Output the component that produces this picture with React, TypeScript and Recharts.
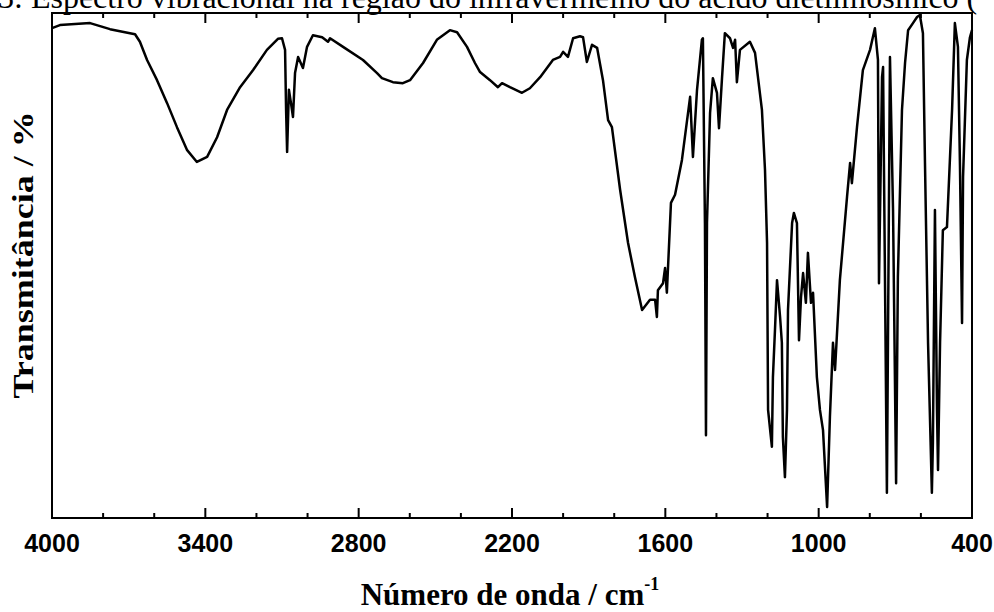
import { LineChart, Line, XAxis, YAxis, ReferenceArea } from "recharts";

// wavenumber (cm-1), read left to right
const wavenumber = [
  4000, 3969, 3910, 3851, 3812, 3773, 3734, 3695, 3675, 3656, 3628, 3589, 3550, 3511, 3472, 3433,
  3393, 3354, 3315, 3264, 3213, 3159, 3116, 3100, 3088, 3084, 3080, 3073, 3065, 3057, 3049, 3037,
  3018, 3002, 2979, 2943, 2920, 2912, 2861, 2783, 2728, 2709, 2666, 2627, 2599, 2548, 2494, 2443,
  2415, 2376, 2345, 2325, 2286, 2255, 2239, 2208, 2161, 2130, 2090, 2040, 2012, 2000, 1981, 1961,
  1934, 1922, 1907, 1887, 1867, 1844, 1824, 1809, 1777, 1746, 1719, 1691, 1660, 1640, 1633, 1629,
  1609, 1601, 1594, 1578, 1562, 1535, 1503, 1492, 1476, 1457, 1453, 1445, 1441, 1437, 1425, 1414,
  1398, 1390, 1378, 1367, 1347, 1335, 1327, 1320, 1308, 1269, 1249, 1222, 1210, 1202, 1198, 1183,
  1179, 1171, 1163, 1151, 1144, 1140, 1132, 1124, 1120, 1104, 1097, 1085, 1077, 1069, 1061, 1050,
  1042, 1030, 1022, 1007, 995, 983, 967, 956, 944, 936, 917, 889, 877, 870, 850, 827,
  799, 780, 768, 764, 752, 748, 733, 721, 709, 697, 690, 674, 662, 650, 631, 615,
  604, 592, 584, 572, 557, 553, 545, 537, 533, 525, 514, 498, 478, 467, 455, 447,
  439, 435, 420, 408, 400,
];

// transmittance (arbitrary %), same order
const transmittance = [
  97.0, 97.6, 97.8, 98.0, 97.4, 96.8, 96.4, 96.0, 95.8, 94.3, 90.7, 86.7, 82.2, 77.4, 72.9, 70.5,
  71.5, 75.4, 80.8, 85.3, 88.7, 92.7, 94.9, 95.0, 92.7, 80.8, 72.5, 84.8, 82.2, 79.4, 88.1, 91.3,
  89.1, 93.3, 95.6, 95.2, 94.3, 95.0, 93.3, 90.7, 88.1, 87.1, 86.3, 86.1, 86.7, 90.1, 94.7, 96.6,
  96.2, 93.3, 90.1, 88.3, 86.7, 85.3, 86.1, 85.3, 84.2, 85.1, 87.3, 90.7, 91.3, 92.3, 91.3, 95.0,
  95.4, 95.2, 90.3, 93.7, 93.1, 86.7, 78.8, 77.4, 65.0, 54.5, 47.7, 41.2, 43.2, 43.2, 39.8, 45.1,
  46.5, 49.5, 44.6, 62.4, 64.0, 70.9, 83.4, 71.5, 84.8, 94.7, 95.0, 58.4, 16.4, 58.4, 80.2, 87.1,
  84.2, 77.2, 87.3, 96.0, 95.0, 93.1, 94.7, 86.3, 92.7, 94.3, 92.1, 80.8, 68.9, 54.5, 21.4, 14.1,
  27.9, 37.2, 47.1, 39.8, 34.7, 16.0, 8.1, 21.4, 41.2, 58.4, 60.4, 58.4, 35.2, 43.8, 48.5, 42.6,
  52.5, 42.6, 44.6, 27.9, 21.4, 17.4, 2.2, 20.0, 34.7, 29.3, 47.1, 63.6, 70.3, 66.3, 77.4, 88.7,
  92.7, 97.0, 90.7, 46.5, 87.3, 89.3, 5.0, 91.3, 61.0, 6.9, 47.7, 80.8, 90.1, 96.6, 98.0, 99.2,
  99.6, 96.0, 70.3, 34.7, 5.0, 14.9, 61.0, 21.4, 9.5, 34.7, 57.0, 57.6, 80.8, 98.0, 93.3, 69.5,
  38.6, 67.5, 90.7, 95.2, 96.6,
];

const tickValues = [
  4000, 3800, 3600, 3400, 3200, 3000, 2800, 2600, 2400, 2200, 2000, 1800, 1600, 1400, 1200, 1000,
  800, 600, 400,
];
const labelledTicks = [4000, 3400, 2800, 2200, 1600, 1000, 400];

const data = wavenumber.map((w, i) => ({ w, t: transmittance[i] }));

const SERIF = "'Liberation Serif', 'Times New Roman', serif";

const BottomTick = (props: any) => {
  const { x, y, payload } = props;
  const major = labelledTicks.includes(payload.value);
  return (
    <g>
      <line x1={x} x2={x} y1={y} y2={y - (major ? 10 : 5)} stroke="#000" strokeWidth={2} />
      {major && (
        <text
          x={x}
          y={y + 34}
          textAnchor="middle"
          fontFamily="'Liberation Sans', Arial, sans-serif"
          fontWeight="bold"
          fontSize={25}
          fill="#000"
        >
          {payload.value}
        </text>
      )}
    </g>
  );
};

const TopTick = (props: any) => {
  const { x, y, payload } = props;
  const major = labelledTicks.includes(payload.value);
  return <line x1={x} x2={x} y1={y} y2={y + (major ? 10 : 5)} stroke="#000" strokeWidth={2} />;
};

export default function App() {
  return (
    <div style={{ position: "absolute", left: 0, top: 0, width: 994, height: 612, background: "#fff" }}>
      <LineChart width={994} height={612} data={data} margin={{ top: 0, right: 0, bottom: 0, left: 0 }}>
        <XAxis
          dataKey="w"
          type="number"
          domain={[400, 4000]}
          reversed
          ticks={tickValues}
          interval={0}
          height={94}
          tickSize={0}
          tickMargin={0}
          tickLine={false}
          axisLine={{ stroke: "#000", strokeWidth: 2 }}
          tick={<BottomTick />}
        />
        <XAxis
          xAxisId="top"
          orientation="top"
          dataKey="w"
          type="number"
          domain={[400, 4000]}
          reversed
          ticks={tickValues}
          interval={0}
          height={13}
          tickSize={0}
          tickMargin={0}
          tickLine={false}
          axisLine={{ stroke: "#000", strokeWidth: 2 }}
          tick={<TopTick />}
        />
        <YAxis
          type="number"
          domain={[0, 100]}
          width={52}
          tick={false}
          tickLine={false}
          axisLine={{ stroke: "#000", strokeWidth: 2 }}
        />
        <YAxis
          yAxisId="right"
          orientation="right"
          type="number"
          domain={[0, 100]}
          width={22}
          tick={false}
          tickLine={false}
          axisLine={{ stroke: "#000", strokeWidth: 2 }}
        />
        <ReferenceArea x1={4000} x2={400} y1={0} y2={100} fill="none" stroke="#000" strokeWidth={2} />
        <Line
          type="linear"
          dataKey="t"
          stroke="#000"
          strokeWidth={2.5}
          strokeLinejoin="round"
          dot={false}
          isAnimationActive={false}
        />
      </LineChart>
      <svg
        width={994}
        height={612}
        style={{ position: "absolute", left: 0, top: 0, pointerEvents: "none" }}
      >
        <text x={-2} y={8} fontFamily={SERIF} fontSize={32} fill="#000">
          3: Espectro vibracional na região do infravermelho do ácido dietilmosínico (
        </text>
        <text
          x={510}
          y={605}
          textAnchor="middle"
          fontFamily={SERIF}
          fontWeight="bold"
          fontSize={31}
          fill="#000"
        >
          Número de onda / cm
          <tspan fontSize={18} dy={-15}>-1</tspan>
        </text>
        <text
          transform="translate(33,255) rotate(-90) scale(1.2,1)"
          textAnchor="middle"
          fontFamily={SERIF}
          fontWeight="bold"
          fontSize={30}
          fill="#000"
        >
          Transmitância / %
        </text>
      </svg>
    </div>
  );
}
